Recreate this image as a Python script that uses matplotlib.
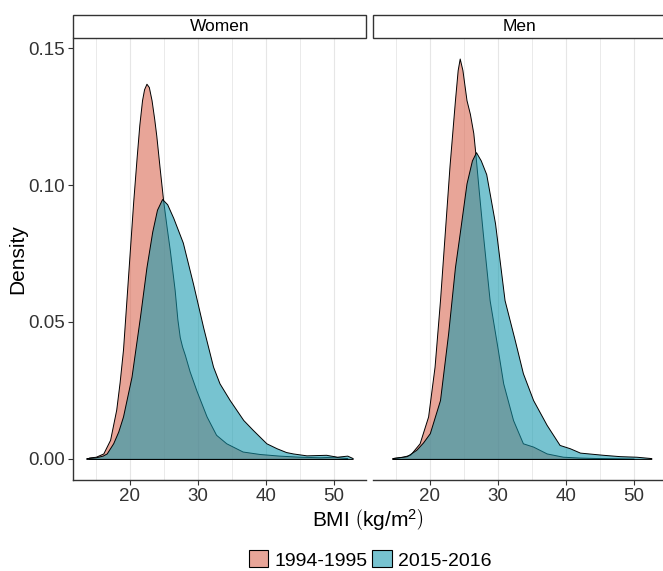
import matplotlib
matplotlib.use("Agg")
import matplotlib.pyplot as plt
from matplotlib.patches import Patch, Rectangle

plt.rcParams['font.family'] = ['Liberation Sans', 'DejaVu Sans']
plt.rcParams['mathtext.fontset'] = 'custom'
plt.rcParams['mathtext.rm'] = 'Liberation Sans'
plt.rcParams['mathtext.it'] = 'Liberation Sans'

# ---- values ----
panels = ['Women', 'Men']
periods = ['1994-1995', '2015-2016']

women_9495_x = [14.0, 15.0, 16.1, 17.1, 18.0, 18.5, 19.0, 19.5, 20.0, 20.5, 21.0, 21.4, 21.8,
                22.1, 22.45, 22.8, 23.2, 23.6, 23.9, 24.4, 24.9, 25.4, 25.9, 26.6, 27.0,
                27.35, 27.7, 28.1, 28.8, 29.8, 31.3, 32.7, 34.2, 36.6, 39.1, 42.0, 45.0,
                48.0, 50.0, 52.0]
women_9495_y = [0.0005, 0.0008, 0.002, 0.007, 0.018, 0.028, 0.040, 0.058, 0.076, 0.094,
                0.110, 0.122, 0.131, 0.135, 0.137, 0.1358, 0.131, 0.124, 0.118, 0.106,
                0.0945, 0.085, 0.076, 0.0617, 0.051, 0.0445, 0.041, 0.038, 0.032, 0.025,
                0.0155, 0.0088, 0.0057, 0.0027, 0.0018, 0.0012, 0.0008, 0.0006, 0.0008,
                0.0003]

women_1516_x = [13.6, 15.0, 16.0, 16.6, 17.55, 18.3, 19.0, 20.25, 21.5, 22.45, 23.3, 24.0,
                24.75, 25.5, 26.4, 27.8, 29.3, 30.8, 32.25, 33.2, 34.7, 36.7, 38.1, 40.1,
                41.6, 43.0, 44.0, 46.0, 48.9, 50.5, 52.0, 52.8]
women_1516_y = [0.0003, 0.0006, 0.0012, 0.002, 0.0057, 0.010, 0.0155, 0.030, 0.052, 0.070,
                0.083, 0.091, 0.0949, 0.093, 0.088, 0.079, 0.064, 0.048, 0.0337, 0.0276,
                0.0215, 0.0142, 0.0106, 0.0057, 0.0039, 0.0025, 0.002, 0.0013, 0.0015,
                0.0008, 0.0012, 0.0003]

men_9495_x = [14.5, 16.0, 17.1, 18.5, 19.75, 20.7, 21.5, 22.2, 22.9, 23.7, 24.1, 24.4, 24.8,
              25.4, 25.9, 26.4, 26.7, 27.2, 27.8, 28.8, 30.0, 30.8, 32.25, 33.7, 35.2, 37.2,
              39.6, 42.0, 45.0, 48.0, 50.0]
men_9495_y = [0.0003, 0.0008, 0.0015, 0.0057, 0.0155, 0.0337, 0.058, 0.0825, 0.107, 0.131,
              0.142, 0.1462, 0.142, 0.131, 0.126, 0.119, 0.1116, 0.098, 0.0824, 0.058, 0.040,
              0.0276, 0.0142, 0.0057, 0.0045, 0.002, 0.0008, 0.0005, 0.0003, 0.0002, 0.0001]

men_1516_x = [14.5, 16.6, 18.0, 19.0, 20.0, 21.5, 22.7, 23.7, 24.4, 25.4, 26.2, 26.8, 27.5,
              28.3, 29.6, 31.0, 32.5, 33.7, 35.2, 37.2, 39.1, 40.6, 42.1, 45.5, 48.0, 50.4, 52.6]
men_1516_y = [0.0003, 0.001, 0.0033, 0.006, 0.0094, 0.0215, 0.0459, 0.070, 0.0824, 0.1006,
              0.109, 0.112, 0.109, 0.104, 0.086, 0.058, 0.0434, 0.0313, 0.0215, 0.0124, 0.0051,
              0.0039, 0.0023, 0.0015, 0.001, 0.0008, 0.0003]

curves = {
    'Women': [(women_9495_x, women_9495_y), (women_1516_x, women_1516_y)],
    'Men': [(men_9495_x, men_9495_y), (men_1516_x, men_1516_y)],
}

x_ticks = [20, 30, 40, 50]
y_ticks = [0.00, 0.05, 0.10, 0.15]
y_tick_labels = ['0.00', '0.05', '0.10', '0.15']

fill_colors = [(217 / 255, 100 / 255, 78 / 255, 0.58), (21 / 255, 153 / 255, 174 / 255, 0.58)]
axis_grey = '#333333'

W, H = 663, 571
fig = plt.figure(figsize=(W / 100, H / 100), dpi=100)

panel_left = [73, 373]
panel_w = 293
top, bottom = 38, 480

for i, name in enumerate(panels):
    ax = fig.add_axes([panel_left[i] / W, 1 - bottom / H, panel_w / W, (bottom - top) / H])
    ax.set_xlim(11.64, 54.76)
    ax.set_ylim(-0.0077, 0.1537)

    for g in range(15, 55, 5):
        ax.axvline(g, color='#E6E6E6', lw=0.8 if g % 10 == 0 else 0.6, zorder=0)

    for k, (xs, ys) in enumerate(curves[name]):
        ax.fill_between(xs, ys, 0, facecolor=fill_colors[k], edgecolor='black',
                        linewidth=0.7, zorder=2 + k)

    for s in ['top', 'right']:
        ax.spines[s].set_visible(False)
    ax.spines['bottom'].set_color(axis_grey)
    ax.spines['bottom'].set_linewidth(1.0)
    ax.set_xticks(x_ticks)
    ax.set_xticklabels([str(t) for t in x_ticks])
    ax.tick_params(axis='x', length=3.5, width=0.8, color=axis_grey, labelcolor=axis_grey,
                   labelsize=13.5, pad=2)
    if i == 0:
        ax.spines['left'].set_color(axis_grey)
        ax.spines['left'].set_linewidth(1.0)
        ax.set_yticks(y_ticks)
        ax.set_yticklabels(y_tick_labels)
        ax.tick_params(axis='y', length=3.5, width=0.8, color=axis_grey, labelcolor=axis_grey,
                       labelsize=13.5, pad=2)
    else:
        ax.spines['left'].set_visible(False)
        ax.set_yticks([])

    # facet strip
    strip_h = 23 / (bottom - top)
    ax.add_patch(Rectangle((0, 1.0), 1.0, strip_h, transform=ax.transAxes, clip_on=False,
                           facecolor='white', edgecolor=axis_grey, linewidth=1.0))
    ax.text(0.5, 1 + strip_h / 2, name, transform=ax.transAxes, ha='center', va='center',
            fontsize=12.5, color='black')

fig.text(18 / W, 1 - 259 / H, 'Density', rotation=90, ha='center', va='center', fontsize=15,
         color='black')
fig.text(368 / W, 1 - 520 / H, r'BMI $\left(\mathrm{kg/m^2}\right)$', ha='center', va='center',
         fontsize=15, color='black')

handles = [Patch(facecolor=c, edgecolor='black', linewidth=0.8) for c in fill_colors]
fig.legend(handles, periods, loc='center', bbox_to_anchor=(370 / W, 1 - 560 / H), ncol=2,
           frameon=False, fontsize=14, handlelength=1.0, handleheight=0.95, handletextpad=0.3,
           columnspacing=0.25, borderpad=0)

fig.savefig('out.png', dpi=100)
